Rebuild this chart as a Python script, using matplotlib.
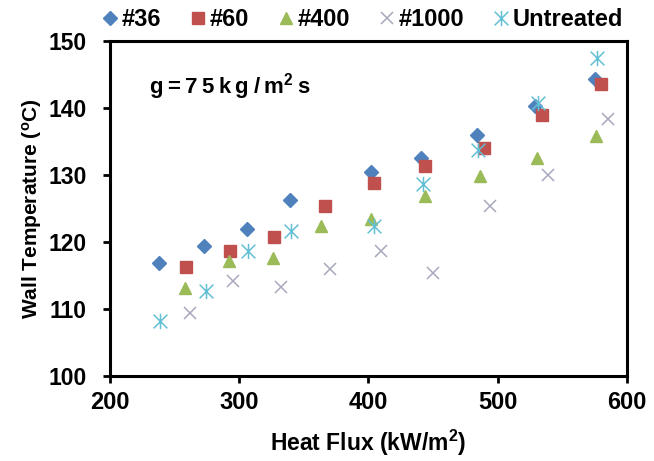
import matplotlib
matplotlib.use('Agg')
from matplotlib import pyplot as plt
from matplotlib.path import Path

# heat flux (kW/m2) and wall temperature (C) per surface
q_36 = [238, 273, 306, 339, 402, 441, 484, 529, 575]
t_36 = [116.9, 119.4, 121.9, 126.3, 130.5, 132.6, 136.0, 140.3, 144.4]
q_60 = [259, 293, 327, 366, 404, 444, 489, 534, 580]
t_60 = [116.2, 118.6, 120.8, 125.4, 128.8, 131.3, 134.1, 139.0, 143.6]
q_400 = [258, 292, 326, 363, 402, 444, 486, 530, 576]
t_400 = [113.2, 117.1, 117.6, 122.4, 123.4, 126.9, 129.9, 132.5, 135.8]
q_1000 = [262, 295, 332, 370, 410, 450, 494, 539, 585]
t_1000 = [109.4, 114.2, 113.3, 115.9, 118.6, 115.4, 125.4, 130.0, 138.3]
q_un = [239, 274, 307, 340, 404, 442, 485, 531, 577]
t_un = [108.2, 112.7, 118.7, 121.6, 122.4, 128.6, 133.8, 140.8, 147.5]

plt.rcParams['font.family'] = ['Liberation Sans', 'DejaVu Sans']
plt.rcParams['font.weight'] = 'bold'
plt.rcParams['mathtext.fontset'] = 'custom'
plt.rcParams['mathtext.rm'] = 'Liberation Sans:bold'
plt.rcParams['mathtext.bf'] = 'Liberation Sans:bold'
plt.rcParams['mathtext.it'] = 'Liberation Sans:bold'

# asterisk marker: vertical bar plus two diagonals
s = 0.5
star = Path([(0, -s), (0, s), (-s * 0.9, -s * 0.9), (s * 0.9, s * 0.9),
             (-s * 0.9, s * 0.9), (s * 0.9, -s * 0.9)],
            [Path.MOVETO, Path.LINETO, Path.MOVETO, Path.LINETO,
             Path.MOVETO, Path.LINETO])

fig = plt.figure(figsize=(6.54, 4.61), dpi=100)
ax = fig.add_axes([0.1682, 0.1844, 0.7905, 0.7267])

ax.plot(q_36, t_36, ls='none', marker='D', ms=7, color='#4F81BD', label='#36')
ax.plot(q_60, t_60, ls='none', marker='s', ms=9, color='#C0504D', label='#60')
ax.plot(q_400, t_400, ls='none', marker='^', ms=9, color='#9BBB59', label='#400')
ax.plot(q_1000, t_1000, ls='none', marker='x', ms=9, mew=1.1,
        color='#A8A8BC', label='#1000')
ax.plot(q_un, t_un, ls='none', marker=star, ms=11, mew=1.1, mfc='none',
        color='#62BFD4', label='Untreated')

ax.set_xlim(200, 600)
ax.set_ylim(100, 150)
ax.set_xticks([200, 300, 400, 500, 600])
ax.set_yticks([100, 110, 120, 130, 140, 150])
ax.tick_params(direction='out', length=5, width=2)
ax.tick_params(axis='x', labelsize=17, pad=6)
ax.tick_params(axis='y', labelsize=16.5, pad=12)
for sp in ax.spines.values():
    sp.set_linewidth(2.2)

ax.set_xlabel('Heat Flux (kW/m$^2$)', fontsize=16.5, fontweight='bold')
ax.set_ylabel('Wall Temperature ($^o$C)', fontsize=15, fontweight='bold')
ax.xaxis.set_label_coords(0.5, -0.2)
ax.xaxis.label.set_va('center')
ax.yaxis.set_label_coords(-0.151, 0.5)
ax.yaxis.label.set_va('center')

# letter-spaced like the original
sp_ = '\u2009'
ax.text(230, 142.2, sp_.join(['g', '=', '7', '5', 'k', 'g', '/', 'm$^2$', 's']),
        fontsize=16, fontweight='bold', va='baseline', ha='left')

fig.legend(loc='center', bbox_to_anchor=(0.556, 0.957), ncol=5, frameon=False,
           fontsize=17, handlelength=0.5, handletextpad=0.25, columnspacing=1.3,
           borderaxespad=0)

fig.savefig('out.png', dpi=100)
